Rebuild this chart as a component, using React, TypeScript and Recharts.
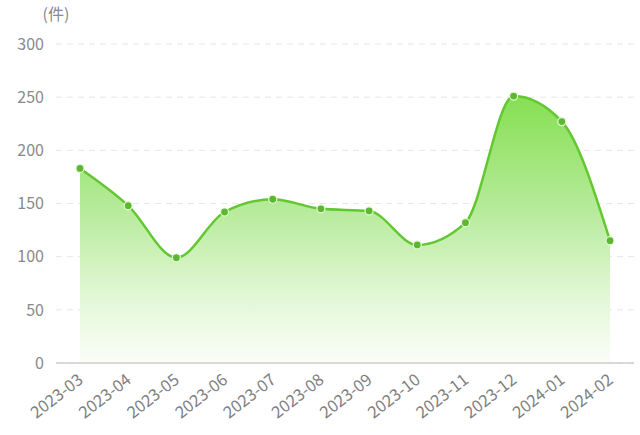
import React from 'react';
import { AreaChart, Area, XAxis, YAxis, CartesianGrid } from 'recharts';

const months = ['2023-03', '2023-04', '2023-05', '2023-06', '2023-07', '2023-08', '2023-09', '2023-10', '2023-11', '2023-12', '2024-01', '2024-02'];
const counts = [183, 148, 99, 142, 154, 145, 143, 111, 132, 251, 227, 115];
const yTicks = [0, 50, 100, 150, 200, 250, 300];
const unitLabel = '(件)';

const data = months.map((m, i) => ({ month: m, count: counts[i] }));

const FONT = '"Noto Sans CJK SC", "Noto Sans", sans-serif';

const XTick = (props: any) => {
  const { x, y, payload } = props;
  return (
    <g transform={`translate(${x - 2},${y + 3})`}>
      <text
        x={0}
        y={0}
        dy={10}
        textAnchor="end"
        transform="rotate(-38)"
        fill="#7f7f7f"
        fontSize={16.5}
        fontFamily={FONT}
      >
        {payload.value}
      </text>
    </g>
  );
};

const UnitLabel = (props: any) => {
  const vb = props.viewBox || {};
  return (
    <text
      x={(vb.x || 0) + (vb.width || 0)}
      y={20}
      textAnchor="middle"
      fill="#8a8a8a"
      fontSize={16}
      fontFamily={FONT}
    >
      {unitLabel}
    </text>
  );
};

export default function App() {
  return (
    <div style={{ position: 'absolute', left: 0, top: 0, width: 640, height: 435, background: '#fff' }}>
      <AreaChart width={640} height={435} data={data} margin={{ top: 44, right: 6, left: 0, bottom: 0 }}>
        <defs>
          <linearGradient id="areaFill" x1="0" y1="0" x2="0" y2="1">
            <stop offset="0%" stopColor="#86df52" stopOpacity={1} />
            <stop offset="40%" stopColor="#b3ea96" stopOpacity={1} />
            <stop offset="75%" stopColor="#e2f7d6" stopOpacity={1} />
            <stop offset="100%" stopColor="#fafef8" stopOpacity={1} />
          </linearGradient>
        </defs>
        <CartesianGrid vertical={false} stroke="#e6e6e6" strokeDasharray="6 5" />
        <XAxis
          dataKey="month"
          height={72}
          tickLine={false}
          axisLine={{ stroke: '#cccccc', strokeWidth: 1.5 }}
          tick={<XTick />}
          interval={0}
          padding={{ left: 24, right: 24 }}
        />
        <YAxis
          width={56}
          domain={[0, 300]}
          ticks={yTicks}
          tickLine={false}
          axisLine={false}
          tickMargin={6}
          tick={{ fill: '#8a8a8a', fontSize: 16, fontFamily: FONT }}
          label={<UnitLabel />}
        />
        <Area
          type="monotone"
          dataKey="count"
          stroke="#62c730"
          strokeWidth={2.5}
          fill="url(#areaFill)"
          fillOpacity={1}
          dot={{ r: 4, fill: '#5cb82c', stroke: '#e8f8de', strokeWidth: 1.2, fillOpacity: 1 }}
          activeDot={false}
          isAnimationActive={false}
        />
      </AreaChart>
    </div>
  );
}
